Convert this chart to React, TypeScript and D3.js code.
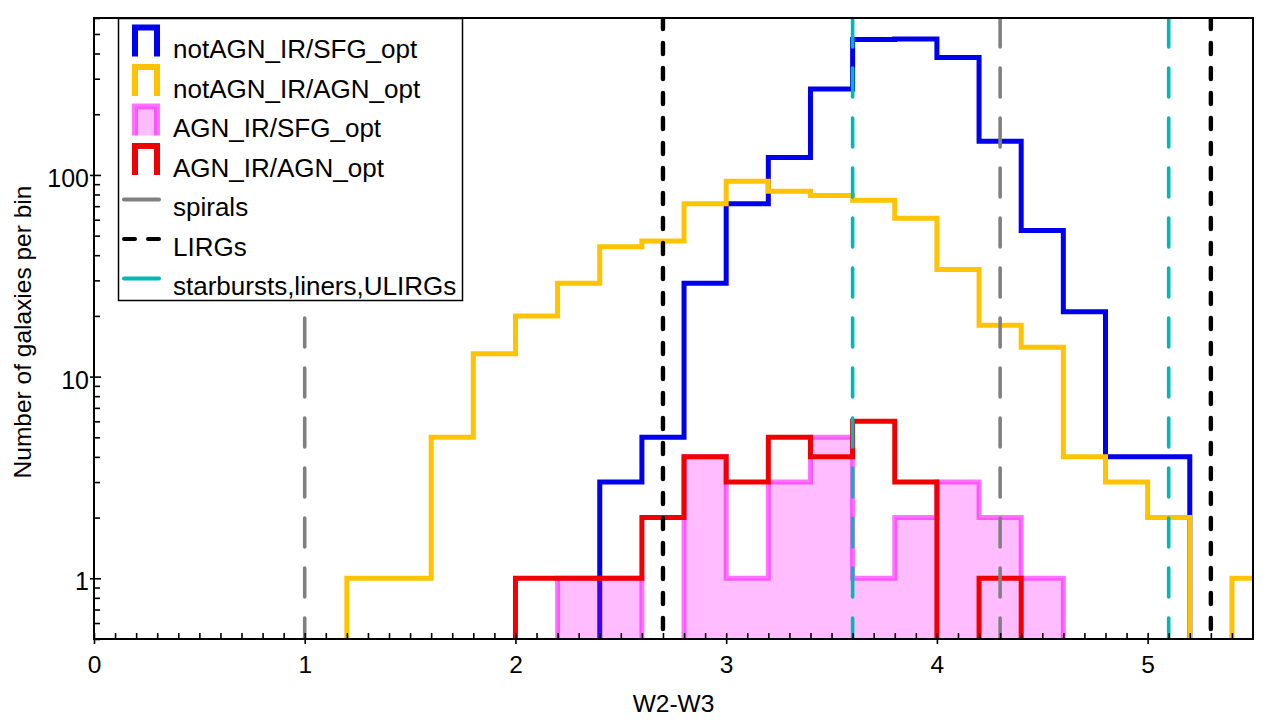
import { useEffect, useRef } from "react";
import * as d3 from "d3";

// Histogram bin edges in W2-W3 (colour) space
const binEdges = [
    0, 0.2, 0.4, 0.6, 0.8, 1.0, 1.2, 1.4, 1.6, 1.8, 2.0, 2.2, 2.4, 2.6, 2.8,
    3.0, 3.2, 3.4, 3.6, 3.8, 4.0, 4.2, 4.4, 4.6, 4.8, 5.0, 5.2, 5.4, 5.6,
];

// Galaxy counts per bin for each class
const notAgnIrSfgOpt = [
    0, 0, 0, 0, 0, 0, 0, 0, 0, 0, 0, 0, 3, 5, 29, 72, 122, 267, 470, 472, 382, 147, 53, 21, 4, 4, 0, 0,
];
const notAgnIrAgnOpt = [
    0, 0, 0, 0, 0, 0, 1, 1, 5, 13, 20, 29, 44, 47, 72, 93, 83, 79, 75, 61, 34, 18, 14, 4, 3, 2, 0, 1,
];
const agnIrSfgOpt = [
    0, 0, 0, 0, 0, 0, 0, 0, 0, 0, 0, 1, 1, 0, 4, 1, 3, 5, 1, 2, 3, 2, 1, 0, 0, 0, 0, 0,
];
const agnIrAgnOpt = [
    0, 0, 0, 0, 0, 0, 0, 0, 0, 0, 1, 1, 1, 2, 4, 3, 5, 4, 6, 3, 0, 1, 0, 0, 0, 0, 0, 0,
];

// Reference colours of known galaxy populations
const spiralLines = [1.0, 4.3];
const lirgLines = [2.7, 5.3];
const starburstLines = [3.6, 5.1];

const xTicks = [0, 1, 2, 3, 4, 5];
const yTicks = [1, 10, 100];

const legendLabels = [
    "notAGN_IR/SFG_opt",
    "notAGN_IR/AGN_opt",
    "AGN_IR/SFG_opt",
    "AGN_IR/AGN_opt",
    "spirals",
    "LIRGs",
    "starbursts,liners,ULIRGs",
];

const BLUE = "#0000ee";
const GOLD = "#ffc300";
const MAGENTA = "#ff00ff";
const RED = "#f00000";
const GREY = "#808080";
const CYAN = "#00b8b8";
const FONT = "'Liberation Sans', Arial, Helvetica, sans-serif";

export default function App() {
    const svgRef = useRef<SVGSVGElement | null>(null);

    useEffect(() => {
        const width = 1267;
        const height = 723;
        const m = { left: 94, right: 1253, top: 18, bottom: 639 };

        const x = d3.scaleLinear().domain([0, 5.5]).range([m.left, m.right]);
        const y = d3.scaleLog().domain([0.5, 600]).range([m.bottom, m.top]);

        const svg = d3.select(svgRef.current!).attr("width", width).attr("height", height);
        svg.selectAll("*").remove();

        svg.append("defs")
            .append("clipPath")
            .attr("id", "plot-clip")
            .append("rect")
            .attr("x", m.left)
            .attr("y", m.top)
            .attr("width", m.right - m.left)
            .attr("height", m.bottom - m.top);

        const plot = svg.append("g").attr("clip-path", "url(#plot-clip)");

        // Empty bins fall to a floor below the visible range so the outline drops off the plot
        const floor = 0.05;
        const stepPoints = (counts: number[]) => {
            const pts: [number, number][] = [[binEdges[0], floor]];
            counts.forEach((c, i) => {
                const v = c > 0 ? c : floor;
                pts.push([binEdges[i], v], [binEdges[i + 1], v]);
            });
            pts.push([binEdges[counts.length], floor]);
            return pts;
        };

        const line = d3
            .line<[number, number]>()
            .x((d) => x(d[0]))
            .y((d) => y(d[1]));

        const drawStep = (counts: number[], color: string) => {
            plot.append("path")
                .attr("d", line(stepPoints(counts))!)
                .attr("fill", "none")
                .attr("stroke", color)
                .attr("stroke-width", 5)
                .attr("stroke-linejoin", "miter");
        };

        drawStep(notAgnIrSfgOpt, BLUE);
        drawStep(notAgnIrAgnOpt, GOLD);

        // Filled translucent histogram
        plot.append("path")
            .attr("d", line(stepPoints(agnIrSfgOpt))! + "Z")
            .attr("fill", MAGENTA)
            .attr("fill-opacity", 0.26)
            .attr("stroke", "none");
        plot.append("path")
            .attr("d", line(stepPoints(agnIrSfgOpt))!)
            .attr("fill", "none")
            .attr("stroke", MAGENTA)
            .attr("stroke-opacity", 0.55)
            .attr("stroke-width", 5);

        drawStep(agnIrAgnOpt, RED);

        // Dashed vertical reference lines
        const vlines = (vals: number[], color: string, w: number, dash: string) => {
            plot.selectAll(null)
                .data(vals)
                .enter()
                .append("line")
                .attr("x1", (d) => x(d))
                .attr("x2", (d) => x(d))
                .attr("y1", m.top)
                .attr("y2", m.bottom)
                .attr("stroke", color)
                .attr("stroke-width", w)
                .attr("stroke-linecap", "round")
                .attr("stroke-dasharray", dash);
        };
        vlines(spiralLines, GREY, 3.6, "29 21");
        vlines(lirgLines, "#000", 4.4, "11 14");
        vlines(starburstLines, CYAN, 3.6, "29 21");

        // X axis: major ticks cross the spine, minor ticks point inward
        const xAxis = svg.append("g")
            .attr("transform", `translate(0,${m.bottom})`)
            .call(d3.axisBottom(x).tickValues(xTicks).tickSize(5).tickFormat(d3.format("d")));
        xAxis.select(".domain").remove();
        xAxis.selectAll(".tick line").attr("y1", -6).attr("stroke-width", 1.6);
        xAxis.selectAll(".tick text")
            .attr("y", 34)
            .attr("dy", 0)
            .attr("font-size", 24.5)
            .attr("font-family", FONT)
            .attr("fill", "#000");

        const xMinor = d3.range(1, 55).map((i) => i / 10).filter((v) => Math.abs(v - Math.round(v)) > 1e-6);
        const xMinorAxis = svg.append("g")
            .attr("transform", `translate(0,${m.bottom})`)
            .call(d3.axisBottom(x).tickValues(xMinor).tickSize(-6).tickFormat(() => ""));
        xMinorAxis.select(".domain").remove();
        xMinorAxis.selectAll(".tick line").attr("stroke-width", 1.6);

        // Y axis (log)
        const yAxis = svg.append("g")
            .attr("transform", `translate(${m.left},0)`)
            .call(d3.axisLeft(y).tickValues(yTicks).tickSize(4).tickFormat(d3.format("d")));
        yAxis.select(".domain").remove();
        yAxis.selectAll(".tick line").attr("x1", 7).attr("stroke-width", 1.6);
        yAxis.selectAll(".tick text")
            .attr("x", -5)
            .attr("y", 11.5)
            .attr("dy", 0)
            .attr("font-size", 25)
            .attr("font-family", FONT)
            .attr("fill", "#000");

        const yMinor = y.ticks().filter((v) => !yTicks.includes(v));
        const yMinorAxis = svg.append("g")
            .attr("transform", `translate(${m.left},0)`)
            .call(d3.axisLeft(y).tickValues(yMinor).tickSize(-6).tickFormat(() => ""));
        yMinorAxis.select(".domain").remove();
        yMinorAxis.selectAll(".tick line").attr("stroke-width", 1.6);

        // Frame
        svg.append("rect")
            .attr("x", m.left)
            .attr("y", m.top)
            .attr("width", m.right - m.left)
            .attr("height", m.bottom - m.top)
            .attr("fill", "none")
            .attr("stroke", "#000")
            .attr("stroke-width", 2);

        // Axis titles
        svg.append("text")
            .attr("x", (m.left + m.right) / 2)
            .attr("y", 712)
            .attr("text-anchor", "middle")
            .attr("font-size", 24.5)
            .attr("font-family", FONT)
            .text("W2-W3");

        svg.append("text")
            .attr("transform", `translate(31,332) rotate(-90)`)
            .attr("text-anchor", "middle")
            .attr("font-size", 24.5)
            .attr("font-family", FONT)
            .text("Number of galaxies per bin");

        // Legend
        const lg = svg.append("g");
        lg.append("rect")
            .attr("x", 118.5)
            .attr("y", 18.5)
            .attr("width", 344)
            .attr("height", 282)
            .attr("fill", "#fff")
            .attr("stroke", "#000")
            .attr("stroke-width", 1.5);

        const rowBase = (i: number) => 58 + 39.5 * i;
        const histHandle = (i: number, color: string, filled: boolean) => {
            const bottom = rowBase(i) - 1.5;
            const top = bottom - 29;
            if (filled) {
                lg.append("rect")
                    .attr("x", 135)
                    .attr("y", top)
                    .attr("width", 22)
                    .attr("height", bottom - top)
                    .attr("fill", MAGENTA)
                    .attr("fill-opacity", 0.26);
            }
            lg.append("path")
                .attr("d", `M135,${bottom}V${top}H157V${bottom}`)
                .attr("fill", "none")
                .attr("stroke", color)
                .attr("stroke-opacity", filled ? 0.55 : 1)
                .attr("stroke-width", 6);
        };
        histHandle(0, BLUE, false);
        histHandle(1, GOLD, false);
        histHandle(2, MAGENTA, true);
        histHandle(3, RED, false);

        const lineHandle = (i: number, color: string, dash: string | null) => {
            const yy = rowBase(i) - 16.5;
            const l = lg.append("line")
                .attr("x1", 124)
                .attr("x2", 159)
                .attr("y1", yy)
                .attr("y2", yy)
                .attr("stroke", color)
                .attr("stroke-width", 4)
                .attr("stroke-linecap", "round");
            if (dash) l.attr("stroke-dasharray", dash);
        };
        lineHandle(4, GREY, null);
        lineHandle(5, "#000", "11 13");
        lineHandle(6, CYAN, null);

        lg.selectAll("text.legend-label")
            .data(legendLabels)
            .enter()
            .append("text")
            .attr("class", "legend-label")
            .attr("x", 173)
            .attr("y", (_, i) => rowBase(i))
            .attr("font-size", 26)
            .attr("font-family", FONT)
            .text((d) => d);
    }, []);

    return <svg ref={svgRef} style={{ position: "absolute", left: 0, top: 0, background: "#fff" }} />;
}
